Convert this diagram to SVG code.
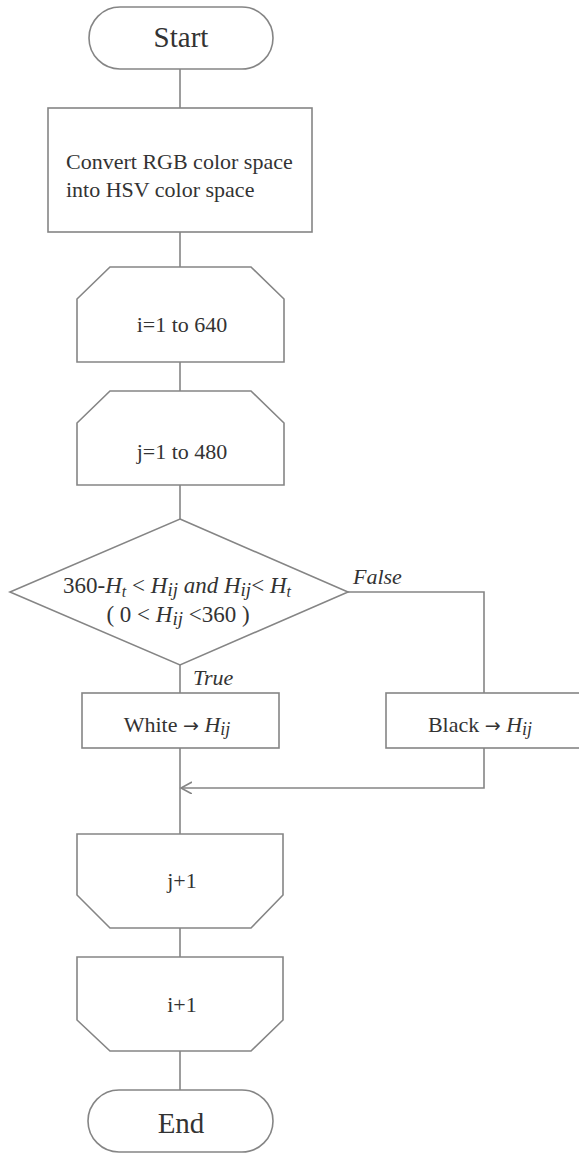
<svg xmlns="http://www.w3.org/2000/svg" width="579" height="1154" viewBox="0 0 579 1154">
<style>
.s{fill:#fff;stroke:#858585;stroke-width:1.6}
.c{fill:none;stroke:#858585;stroke-width:1.6}
text{fill:#333}
.m{text-anchor:middle}
.t22{font-size:22px}
.t23{font-size:23px}
.t29{font-size:29px}
.it{font-style:italic}
.ar{font-family:"DejaVu Sans",sans-serif;font-size:19px}
</style>
<defs>
<marker id="ah" markerWidth="14" markerHeight="14" refX="11" refY="6" orient="auto" markerUnits="userSpaceOnUse">
<path d="M0,0 L11,6 L0,12" fill="none" stroke="#858585" stroke-width="1.6"/>
</marker>
</defs>
<rect width="579" height="1154" fill="#fff"/>
<g id="connectors" font-family="'Liberation Serif', 'DejaVu Serif', serif">
<line class="c" x1="180" y1="69" x2="180" y2="108"/>
<line class="c" x1="180" y1="232" x2="180" y2="267"/>
<line class="c" x1="180" y1="362" x2="180" y2="391"/>
<line class="c" x1="180" y1="485" x2="180" y2="519"/>
<line class="c" x1="180" y1="665" x2="180" y2="693"/>
<polyline class="c" points="348,592 484,592 484,693"/>
<line class="c" x1="180" y1="748" x2="180" y2="834"/>
<polyline class="c" points="484,748 484,788 181,788" marker-end="url(#ah)"/>
<line class="c" x1="180" y1="928" x2="180" y2="957"/>
<line class="c" x1="180" y1="1051" x2="180" y2="1090"/>
<text class="t22 it" x="193" y="685">True</text>
<text class="t22 it" x="353" y="584">False</text>
</g>
<g font-family="'Liberation Serif', 'DejaVu Serif', serif">
<g id="start">
<rect class="s" x="89" y="7" width="184" height="62" rx="31"/>
<text class="t29 m" x="181" y="47">Start</text>
</g>
<g id="convert">
<rect class="s" x="48" y="108" width="264" height="124"/>
<text class="t22" x="66" y="169">Convert RGB color space</text>
<text class="t22" x="66" y="197">into HSV color space</text>
</g>
<g id="loopi">
<path class="s" d="M110,267 L251,267 L284,299 L284,362 L77,362 L77,299 Z"/>
<text class="t22 m" x="182" y="332">i=1 to 640</text>
</g>
<g id="loopj">
<path class="s" d="M110,391 L251,391 L284,423 L284,485 L77,485 L77,423 Z"/>
<text class="t22 m" x="182" y="459">j=1 to 480</text>
</g>
<g id="decision">
<path class="s" d="M180,519 L348,592 L180,665 L10,592 Z"/>
<text class="t23 m" x="177" y="593">360-<tspan class="it">H</tspan><tspan class="it" font-size="16" dy="4">t</tspan><tspan dy="-4"> &lt; </tspan><tspan class="it">H</tspan><tspan class="it" font-size="19" dy="3">ij</tspan><tspan class="it" dy="-3"> and H</tspan><tspan class="it" font-size="19" dy="3">ij</tspan><tspan dy="-3">&lt; </tspan><tspan class="it">H</tspan><tspan class="it" font-size="16" dy="4">t</tspan></text>
<text class="t23 m" x="178" y="622">( 0 &lt; <tspan class="it">H</tspan><tspan class="it" font-size="19" dy="3">ij</tspan><tspan dy="-3"> &lt;360 )</tspan></text>
</g>
<g id="white">
<rect class="s" x="82" y="693" width="197" height="55"/>
<text class="t22 m" x="177" y="732">White <tspan class="ar">→</tspan> <tspan class="it">H</tspan><tspan class="it" font-size="18" dy="3">ij</tspan></text>
</g>
<g id="black">
<rect class="s" x="386" y="693" width="197" height="55"/>
<text class="t22 m" x="480" y="732">Black <tspan class="ar">→</tspan> <tspan class="it">H</tspan><tspan class="it" font-size="18" dy="3">ij</tspan></text>
</g>
<g id="incj">
<path class="s" d="M77,834 L283,834 L283,895 L251,928 L110,928 L77,895 Z"/>
<text class="t22 m" x="182" y="888">j+1</text>
</g>
<g id="inci">
<path class="s" d="M77,957 L283,957 L283,1020 L251,1051 L110,1051 L77,1020 Z"/>
<text class="t22 m" x="182" y="1012">i+1</text>
</g>
<g id="end">
<rect class="s" x="88" y="1090" width="185" height="62" rx="31"/>
<text class="t29 m" x="181" y="1133">End</text>
</g>
</g>
</svg>
